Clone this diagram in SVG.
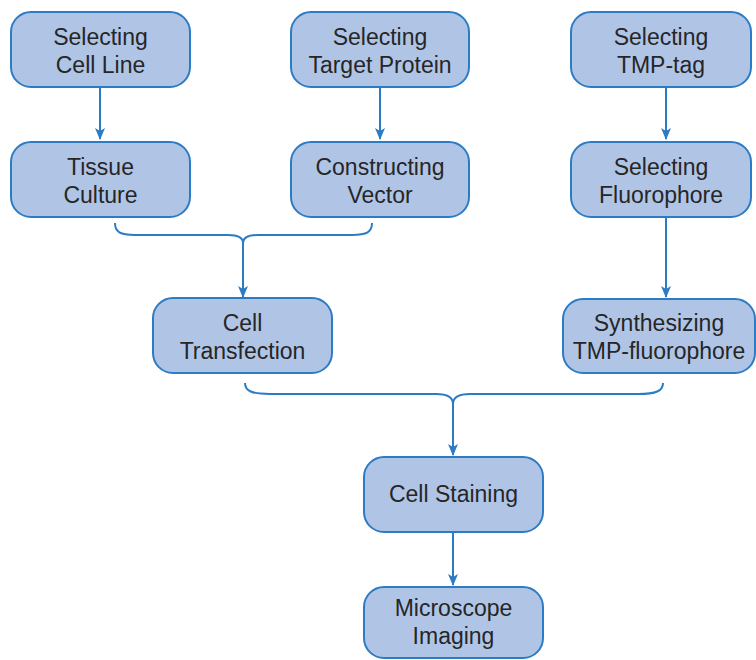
<svg xmlns="http://www.w3.org/2000/svg" width="756" height="660" viewBox="0 0 756 660">
<defs>
<style>
.box{fill:#b0c5e6;stroke:#2b7cc4;stroke-width:2}
.lbl{font-family:"Liberation Sans",Arial,sans-serif;font-size:23px;fill:#262626;text-anchor:middle}
.con{fill:none;stroke:#2b7cc4;stroke-width:2}
</style>
<marker id="ah" viewBox="0 0 12 10" refX="11" refY="5" markerWidth="12" markerHeight="10" markerUnits="userSpaceOnUse" orient="auto">
<path d="M0,0 L12,5 L0,10 L3,5 Z" fill="#2b7cc4"/>
</marker>
</defs>
<rect width="756" height="660" fill="#ffffff"/>
<g id="connectors">
<path class="con" d="M100,88 L100,139" marker-end="url(#ah)"/>
<path class="con" d="M380,88 L380,139" marker-end="url(#ah)"/>
<path class="con" d="M666,88 L666,139" marker-end="url(#ah)"/>
<path class="con" d="M666,217 L666,297" marker-end="url(#ah)"/>
<path class="con" d="M115,223 C115,232 120,235 135,235 L228,235 C238,235 243,238 243,243 C243,238 248,235 258,235 L352,235 C367,235 372,232 372,223"/>
<path class="con" d="M243,243 L243,297" marker-end="url(#ah)"/>
<path class="con" d="M245,383 C245,391 252,394 270,394 L436,394 C447,394 453,397 453,404 C453,397 459,394 470,394 L638,394 C656,394 663,391 663,383"/>
<path class="con" d="M453,404 L453,455" marker-end="url(#ah)"/>
<path class="con" d="M453,533 L453,585" marker-end="url(#ah)"/>
</g>
<g id="n1"><rect class="box" x="11" y="12" width="179" height="75" rx="20"/><text class="lbl" x="100.5" y="45">Selecting</text><text class="lbl" x="100.5" y="73">Cell Line</text></g>
<g id="n2"><rect class="box" x="11" y="142" width="179" height="75" rx="20"/><text class="lbl" x="100.5" y="175">Tissue</text><text class="lbl" x="100.5" y="203">Culture</text></g>
<g id="n3"><rect class="box" x="291" y="12" width="178" height="75" rx="20"/><text class="lbl" x="380" y="45">Selecting</text><text class="lbl" x="380" y="73">Target Protein</text></g>
<g id="n4"><rect class="box" x="291" y="142" width="178" height="75" rx="20"/><text class="lbl" x="380" y="175">Constructing</text><text class="lbl" x="380" y="203">Vector</text></g>
<g id="n5"><rect class="box" x="571" y="12" width="180" height="75" rx="20"/><text class="lbl" x="661" y="45">Selecting</text><text class="lbl" x="661" y="73">TMP-tag</text></g>
<g id="n6"><rect class="box" x="571" y="142" width="180" height="75" rx="20"/><text class="lbl" x="661" y="175">Selecting</text><text class="lbl" x="661" y="203">Fluorophore</text></g>
<g id="n7"><rect class="box" x="153" y="298" width="179" height="75" rx="20"/><text class="lbl" x="242.5" y="331">Cell</text><text class="lbl" x="242.5" y="359">Transfection</text></g>
<g id="n8"><rect class="box" x="563" y="299" width="192" height="74" rx="20"/><text class="lbl" x="659" y="331">Synthesizing</text><text class="lbl" x="659" y="359">TMP-fluorophore</text></g>
<g id="n9"><rect class="box" x="364" y="457" width="179" height="75" rx="20"/><text class="lbl" x="453.5" y="502">Cell Staining</text></g>
<g id="n10"><rect class="box" x="364" y="587" width="179" height="71" rx="20"/><text class="lbl" x="453.5" y="616">Microscope</text><text class="lbl" x="453.5" y="644">Imaging</text></g>
</svg>
